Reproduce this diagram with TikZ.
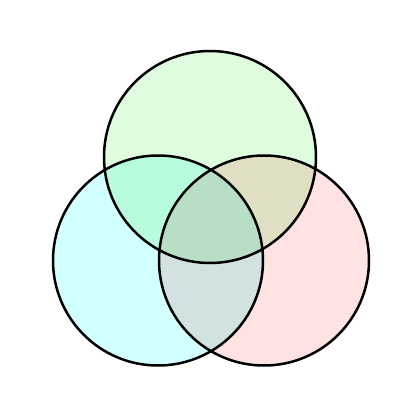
\documentclass[tikz,border=0pt]{standalone}
\usepackage{tikz}
\usepackage{xcolor}
\definecolor{topgreen}{RGB}{224,252,222}
\definecolor{leftcyan}{RGB}{210,255,255}
\definecolor{rightpink}{RGB}{255,226,226}
\definecolor{toplefts}{RGB}{184,252,222}
\definecolor{toprights}{RGB}{224,223,196}
\definecolor{leftrights}{RGB}{210,226,226}
\definecolor{allthree}{RGB}{184,223,197}
\begin{document}
\begin{tikzpicture}[x=1pt,y=-1pt]
\useasboundingbox [fill=white] (0,0) rectangle (420,420);
\coordinate (ctop) at (210,157);
\coordinate (cleft) at (158,260.5);
\coordinate (cright) at (264,260.5);
\fill [topgreen] (ctop) circle (106);
\fill [leftcyan] (cleft) circle (105);
\fill [rightpink] (cright) circle (105);
\begin{scope}
\clip (ctop) circle (106);
\fill [toplefts] (cleft) circle (105);
\fill [toprights] (cright) circle (105);
\clip (cleft) circle (105);
\fill [allthree] (cright) circle (105);
\end{scope}
\begin{scope}
\clip (ctop) circle (106) (-10,-10) rectangle (430,430);
\clip (cleft) circle (105);
\fill [leftrights,even odd rule] (cright) circle (105);
\end{scope}
\draw [line width=2.5pt] (ctop) circle (106);
\draw [line width=2.5pt] (cleft) circle (105);
\draw [line width=2.5pt] (cright) circle (105);
\end{tikzpicture}
\end{document}
